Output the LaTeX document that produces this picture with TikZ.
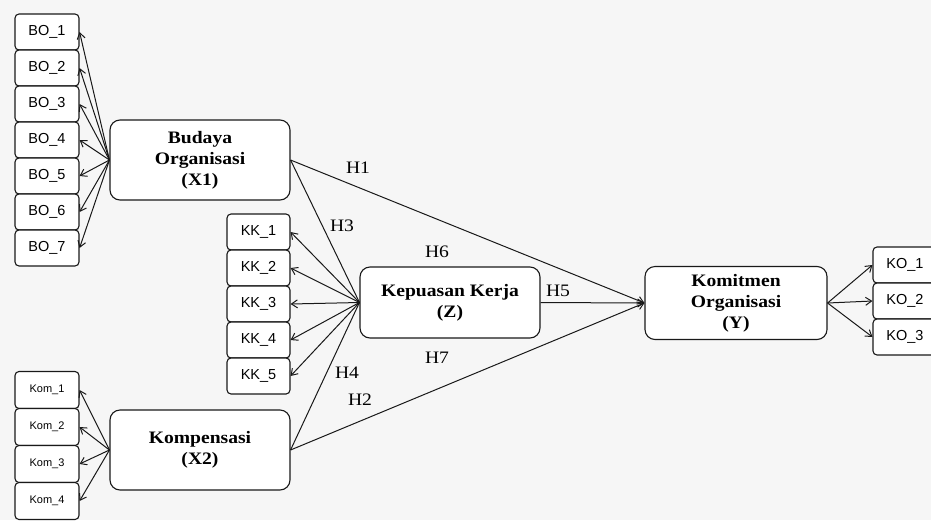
\documentclass[tikz,border=0pt]{standalone}
\usepackage{fontspec}
\setmainfont{Liberation Serif}[FakeStretch=1.12]
\newfontfamily\boxsans{Liberation Sans}
\usetikzlibrary{arrows.meta}
\definecolor{bgc}{RGB}{246,246,246}
\definecolor{ink}{RGB}{25,25,25}
\begin{document}
\begin{tikzpicture}[x=1pt,y=-1pt,
 big/.style={draw=ink, line width=1.1pt, rounded corners=10pt, fill=white, minimum width=180pt, minimum height=80pt, align=center, font=\fontsize{17.5}{21}\selectfont\bfseries, inner sep=0pt},
 ind/.style={draw=ink, line width=1.1pt, rounded corners=4pt, fill=white, minimum width=64pt, minimum height=36pt, inner sep=0pt, font=\boxsans\fontsize{14.5}{16}\selectfont},
 indsmall/.style={ind, minimum height=37pt, font=\boxsans\fontsize{11}{12}\selectfont},
 link/.style={draw=ink, line width=1pt},
 arr/.style={link, -{Straight Barb[length=6pt,width=8pt]}},
 hlab/.style={font=\fontsize{17.5}{20}\selectfont, inner sep=0pt}]
\useasboundingbox[fill=bgc] (0,0) rectangle (931,520);

% exogenous X1
\foreach \i in {1,...,7} {
  \node[ind] (bo\i) at (47,{32+36*(\i-1)}) {BO\_\i};
}
\node[big] (bu) at (200,160) {Budaya\\Organisasi\\(X1)};

% Z
\foreach \i in {1,...,5} {
  \node[ind, minimum width=63pt] (kk\i) at (258.5,{232+36*(\i-1)}) {KK\_\i};
}
\node[big, minimum height=71pt] (kp) at (450,302.5) {Kepuasan Kerja\\(Z)};

% Y
\node[big, minimum width=182pt, minimum height=73pt] (km) at (736,303) {Komitmen\\Organisasi\\(Y)};
\foreach \i in {1,2,3} {
  \node[ind] (ko\i) at (905,{265+36*(\i-1)}) {KO\_\i};
}

% X2
\foreach \i in {1,...,4} {
  \node[indsmall] (kom\i) at (47,{390+37*(\i-1)}) {Kom\_\i};
}
\node[big] (ks) at (200,450) {Kompensasi\\(X2)};

% indicator arrows
\foreach \i in {1,...,7} \draw[arr] (bu.west) -- (bo\i.east);
\foreach \i in {1,...,5} \draw[arr] (kp.west) -- (kk\i.east);
\foreach \i in {1,2,3} \draw[arr] (km.east) -- (ko\i.west);
\foreach \i in {1,...,4} \draw[arr] (ks.west) -- (kom\i.east);

% structural paths
\draw[arr] (bu.east) -- (km.west);
\draw[link] (bu.east) -- (kp.west);
\draw[link] (ks.east) -- (kp.west);
\draw[arr] (ks.east) -- (km.west);
\draw[arr] (kp.east) -- (km.west);

% labels
\node[hlab] (h1) at (358,168) {H1};
\node[hlab] (h3) at (342,226) {H3};
\node[hlab] (h6) at (437,252) {H6};
\node[hlab] (h5) at (558,291) {H5};
\node[hlab] (h7) at (437,358) {H7};
\node[hlab] (h4) at (347,373) {H4};
\node[hlab] (h2) at (360,400) {H2};
\end{tikzpicture}
\end{document}
